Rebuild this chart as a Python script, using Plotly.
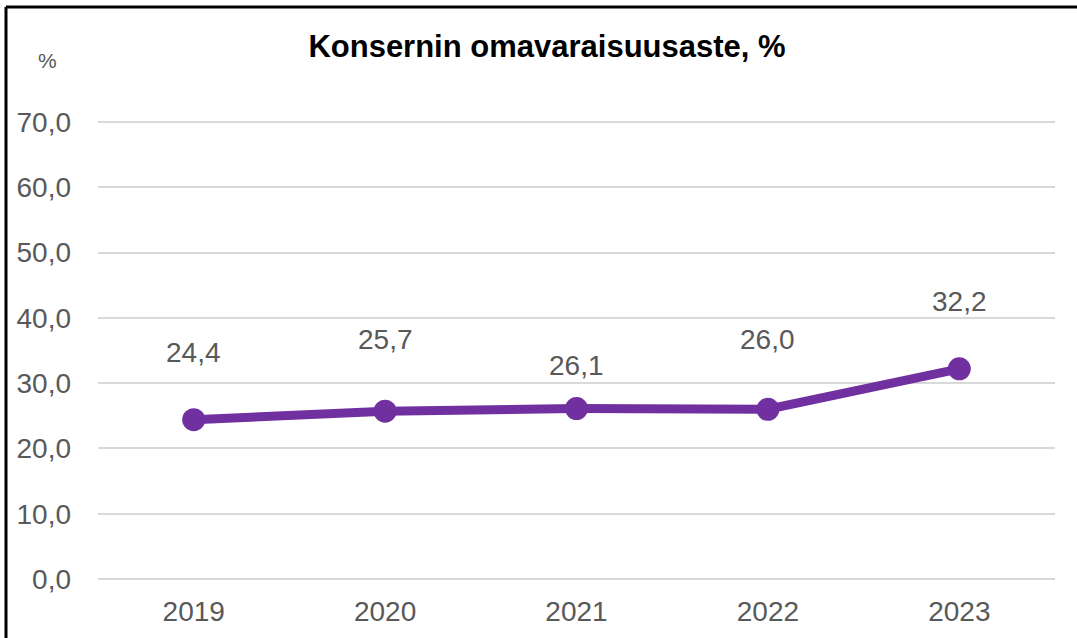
import plotly.graph_objects as go

years = ["2019", "2020", "2021", "2022", "2023"]
values = [24.4, 25.7, 26.1, 26.0, 32.2]
labels = ["24,4", "25,7", "26,1", "26,0", "32,2"]
tick_vals = [0, 10, 20, 30, 40, 50, 60, 70]
tick_text = ["0,0", "10,0", "20,0", "30,0", "40,0", "50,0", "60,0", "70,0"]
label_shift = [67, 72, 43, 70, 67]

FONT = "Liberation Sans, Arial, sans-serif"
PURPLE = "#7030A0"
GREY = "#595959"

fig = go.Figure()
fig.add_trace(go.Scatter(
    x=years, y=values, mode="lines+markers",
    line=dict(color=PURPLE, width=9),
    marker=dict(color=PURPLE, size=23),
    hoverinfo="skip", showlegend=False,
))

for i, (v, t, s) in enumerate(zip(values, labels, label_shift)):
    fig.add_annotation(x=i, y=v, text=t, showarrow=False, yshift=s,
                       xanchor="center", yanchor="middle",
                       font=dict(family=FONT, size=28, color=GREY))

# plot area: x 98..1055, y 120..581 (range -0.3..70.3)
PT, PH, PL, PW = 120, 461, 98, 957

fig.add_annotation(xref="paper", yref="paper", x=(47 - PL) / PW, y=1 + (PT - 60) / PH,
                   xanchor="center", yanchor="middle",
                   text="%", showarrow=False, font=dict(family=FONT, size=21, color=GREY))

# frame (top and left edges)
fig.add_shape(type="line", xref="paper", yref="paper",
              x0=(6 - PL) / PW, x1=(1080 - PL) / PW,
              y0=1 + (PT - 7) / PH, y1=1 + (PT - 7) / PH,
              line=dict(color="black", width=3))
fig.add_shape(type="line", xref="paper", yref="paper",
              x0=(6 - PL) / PW, x1=(6 - PL) / PW,
              y0=1 + (PT - 7) / PH, y1=-(645 - PT - PH) / PH,
              line=dict(color="black", width=3))

fig.update_layout(
    width=1077, height=638,
    margin=dict(l=PL, r=1077 - PL - PW, t=PT, b=638 - PT - PH),
    paper_bgcolor="white", plot_bgcolor="white",
    title=dict(text="<b>Konsernin omavaraisuusaste, %</b>", x=547 / 1077, xanchor="center",
               y=1 - 46 / 638, yanchor="middle",
               font=dict(family=FONT, size=31, color="black")),
    xaxis=dict(type="category", categoryorder="array", categoryarray=years,
               range=[-0.5, len(years) - 0.5], autorange=False,
               showgrid=False, zeroline=False, showline=False,
               tickfont=dict(family=FONT, size=28, color=GREY),
               ticklabelstandoff=11),
    yaxis=dict(range=[-0.3, 70.3], autorange=False, tickvals=tick_vals, ticktext=tick_text,
               showgrid=True, gridcolor="#d9d9d9", gridwidth=2,
               zeroline=False, showline=False,
               tickfont=dict(family=FONT, size=28, color=GREY),
               ticklabelstandoff=26),
)

fig.write_html("out.html", config={"displayModeBar": False},
               post_script="document.body.style.margin='0';")
